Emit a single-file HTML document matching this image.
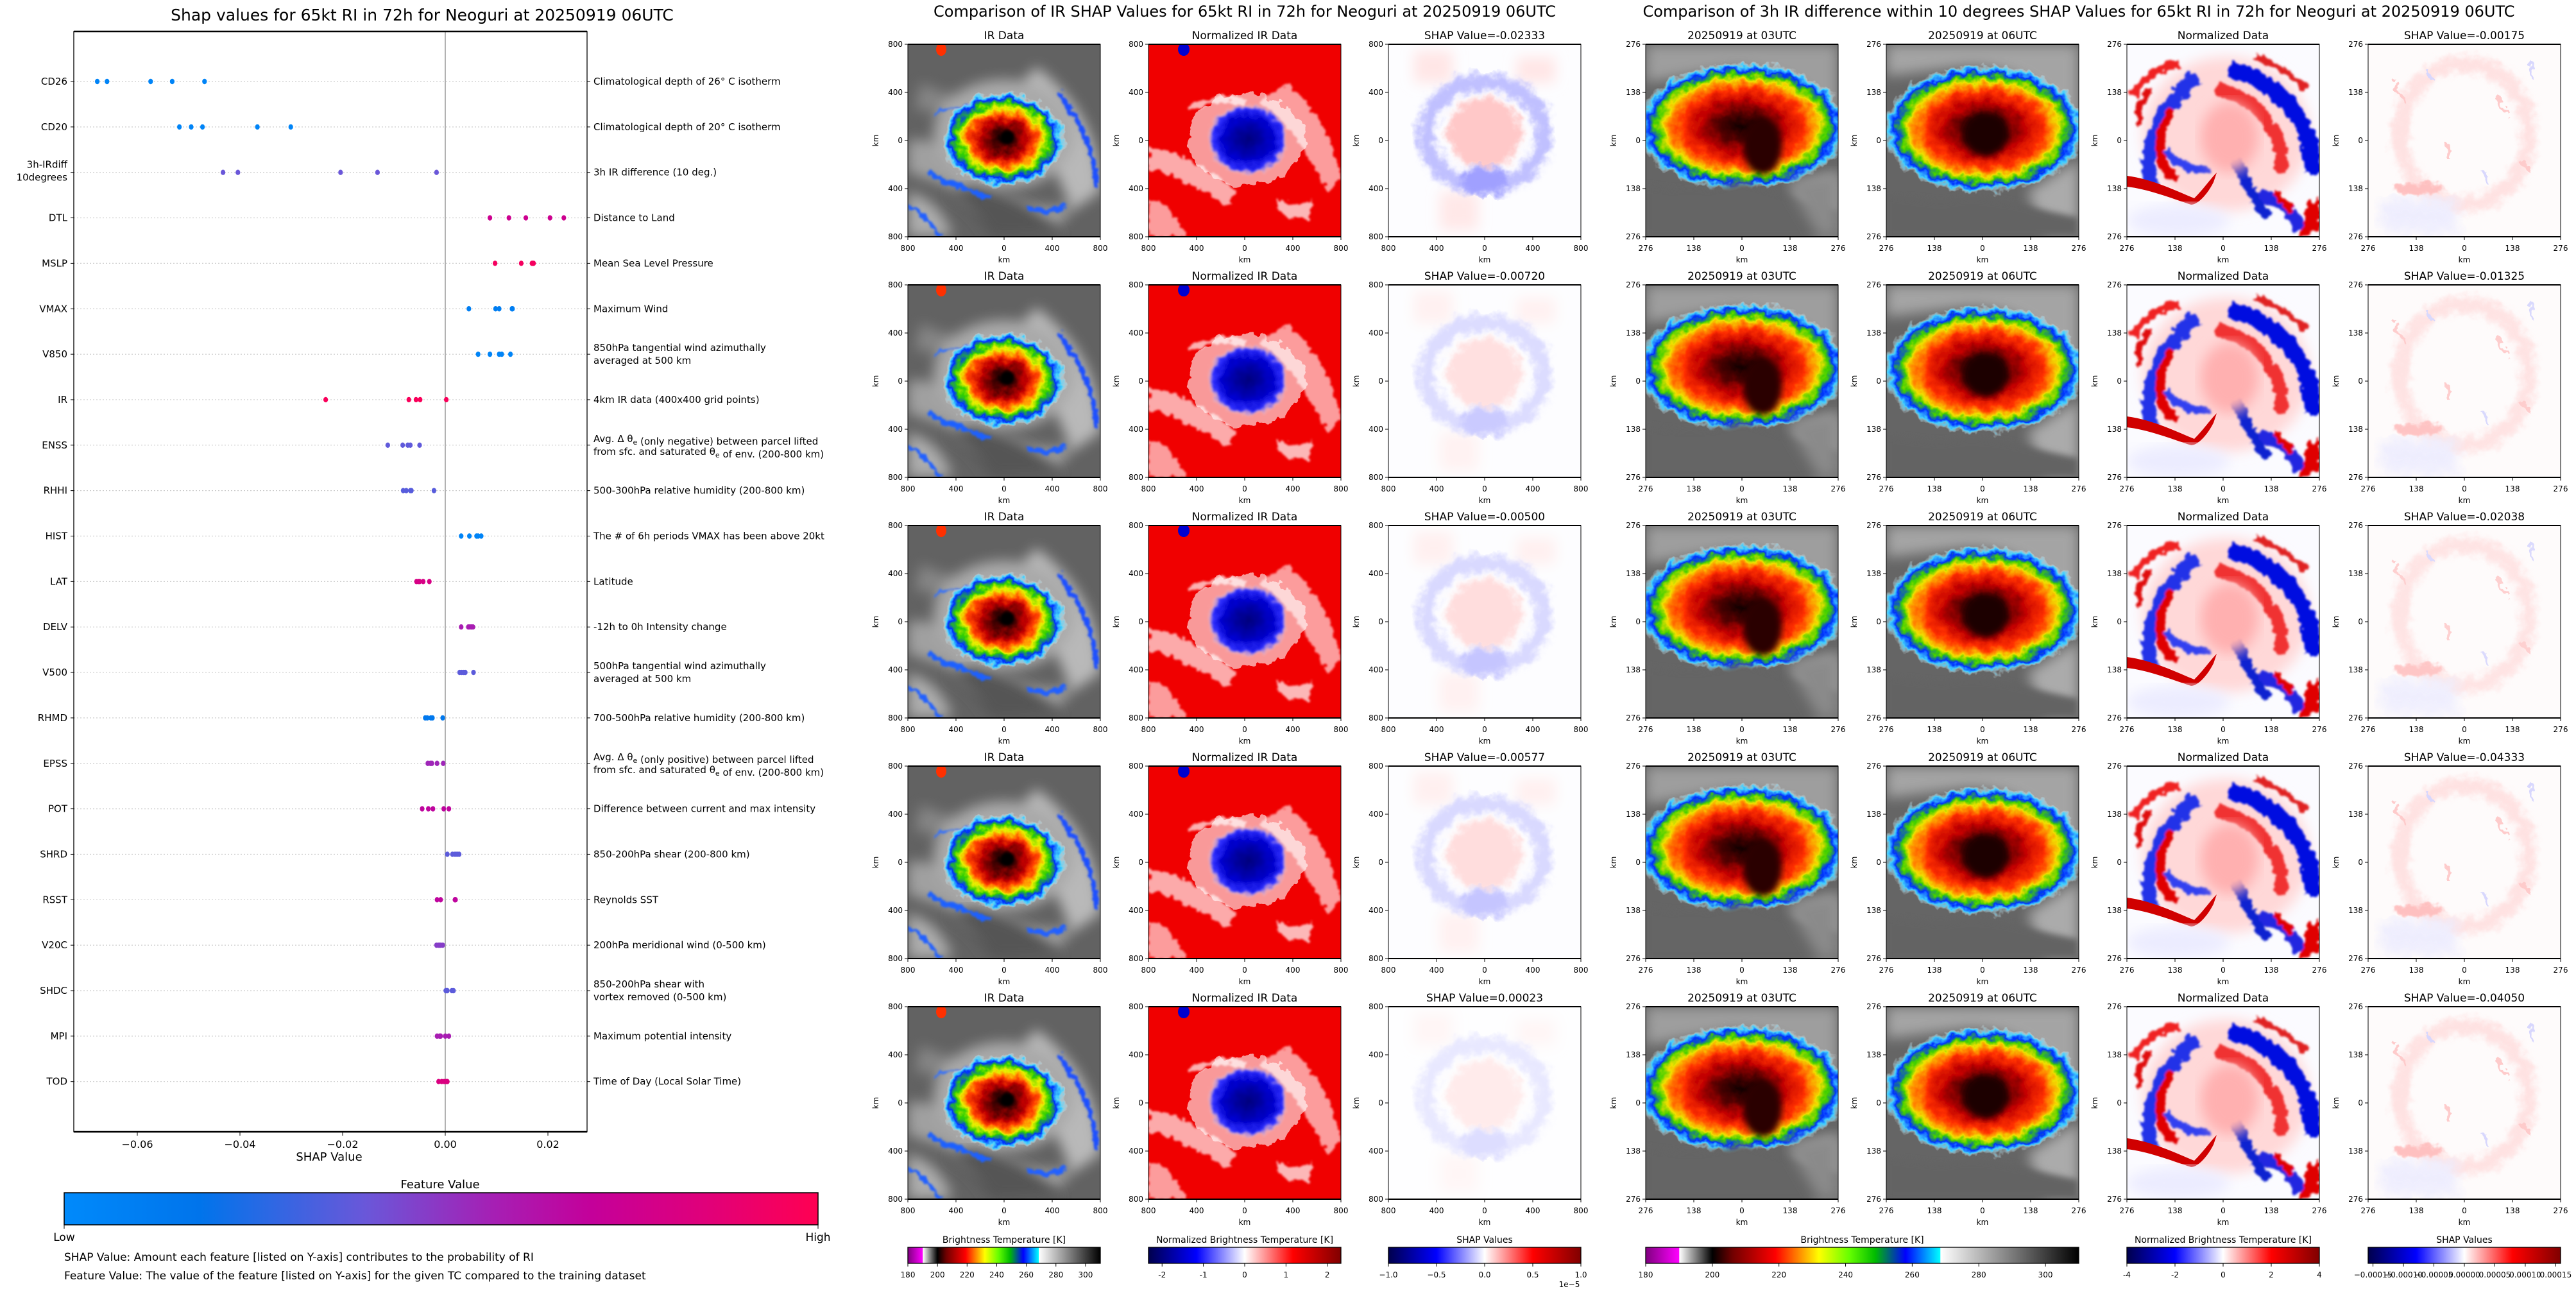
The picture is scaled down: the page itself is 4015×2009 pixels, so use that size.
<!DOCTYPE html>
<html><head><meta charset="utf-8"><title>Neoguri SHAP</title>
<style>
html,body{margin:0;padding:0;background:#fff;}
svg{display:block;font-family:"DejaVu Sans","Liberation Sans",sans-serif;}
</style></head>
<body>
<svg id="root" width="4015" height="2009" viewBox="0 0 4015 2009" xmlns="http://www.w3.org/2000/svg">
<defs>
  <filter id="b2"><feGaussianBlur stdDeviation="2"/></filter>
  <filter id="b5"><feGaussianBlur stdDeviation="5"/></filter>
  <filter id="b10"><feGaussianBlur stdDeviation="10"/></filter>
  <filter id="rough" x="-20%" y="-20%" width="140%" height="140%">
    <feTurbulence type="fractalNoise" baseFrequency="0.06" numOctaves="3" seed="4" result="n"/>
    <feDisplacementMap in="SourceGraphic" in2="n" scale="22" xChannelSelector="R" yChannelSelector="G"/>
  </filter>
  <filter id="rough2" x="-20%" y="-20%" width="140%" height="140%">
    <feTurbulence type="fractalNoise" baseFrequency="0.09" numOctaves="2" seed="9" result="n"/>
    <feDisplacementMap in="SourceGraphic" in2="n" scale="16" xChannelSelector="R" yChannelSelector="G" result="d"/>
    <feGaussianBlur in="d" stdDeviation="1.5"/>
  </filter>
  <linearGradient id="fvGrad" x1="0" x2="1" y1="0" y2="0">
    <stop offset="0" stop-color="#008afb"/><stop offset="0.18" stop-color="#0074eb"/>
    <stop offset="0.4" stop-color="#6a57d9"/><stop offset="0.57" stop-color="#a61fb4"/>
    <stop offset="0.7" stop-color="#c4009a"/><stop offset="0.85" stop-color="#e0007a"/>
    <stop offset="1" stop-color="#ff0052"/>
  </linearGradient>
  <linearGradient id="btGrad" x1="0" x2="1" y1="0" y2="0">
    <stop offset="0" stop-color="#800080"/><stop offset="0.077" stop-color="#ff00ff"/>
    <stop offset="0.078" stop-color="#ffffff"/><stop offset="0.154" stop-color="#000000"/>
    <stop offset="0.2" stop-color="#700000"/><stop offset="0.3" stop-color="#ff0000"/>
    <stop offset="0.36" stop-color="#ff9900"/><stop offset="0.4" stop-color="#ffff00"/>
    <stop offset="0.47" stop-color="#66ff00"/><stop offset="0.53" stop-color="#00bb00"/>
    <stop offset="0.6" stop-color="#0000ff"/><stop offset="0.68" stop-color="#00ffff"/>
    <stop offset="0.681" stop-color="#ffffff"/><stop offset="1" stop-color="#000000"/>
  </linearGradient>
  <linearGradient id="seis" x1="0" x2="1" y1="0" y2="0">
    <stop offset="0" stop-color="#00004c"/><stop offset="0.25" stop-color="#0000ff"/>
    <stop offset="0.5" stop-color="#ffffff"/><stop offset="0.75" stop-color="#ff0000"/>
    <stop offset="1" stop-color="#800000"/>
  </linearGradient>
  <radialGradient id="coreGrad">
    <stop offset="0" stop-color="#100000"/><stop offset="0.2" stop-color="#500000"/>
    <stop offset="0.38" stop-color="#c00000"/><stop offset="0.52" stop-color="#ff4000"/>
    <stop offset="0.6" stop-color="#ffa000"/><stop offset="0.66" stop-color="#e8f000"/>
    <stop offset="0.75" stop-color="#30d000"/><stop offset="0.85" stop-color="#0030ff"/>
    <stop offset="0.92" stop-color="#40d0ff"/><stop offset="1" stop-color="#ffffff" stop-opacity="0"/>
  </radialGradient>
  <radialGradient id="coreGrad2">
    <stop offset="0" stop-color="#100000"/><stop offset="0.22" stop-color="#500000"/>
    <stop offset="0.4" stop-color="#c00000"/><stop offset="0.58" stop-color="#ff3000"/>
    <stop offset="0.68" stop-color="#ff9000"/><stop offset="0.74" stop-color="#f0e000"/>
    <stop offset="0.81" stop-color="#40d000"/><stop offset="0.88" stop-color="#0030ff"/>
    <stop offset="0.94" stop-color="#40d0ff"/><stop offset="1" stop-color="#ffffff" stop-opacity="0"/>
  </radialGradient>
  <radialGradient id="blueCore">
    <stop offset="0" stop-color="#00007a"/><stop offset="0.6" stop-color="#0000cc"/>
    <stop offset="0.85" stop-color="#3030ff"/><stop offset="1" stop-color="#ffffff" stop-opacity="0"/>
  </radialGradient>

  <symbol id="ir800" viewBox="0 0 300 300">
    <rect width="300" height="300" fill="#626262"/>
    <g filter="url(#b10)" opacity="0.8">
      <path d="M200 35 C260 80 300 140 300 230 L255 260 C235 200 195 120 150 90 Z" fill="#cfcfcf"/>
      <path d="M0 150 C60 140 100 200 140 230 C180 250 230 260 260 250 L240 280 C190 290 120 270 60 220 L0 200 Z" fill="#b0b0b0"/>
      <path d="M0 230 C40 240 60 270 70 300 L0 300 Z" fill="#c0c0c0"/>
      <path d="M20 60 C60 80 100 90 140 70 L150 100 C110 120 60 110 10 100 Z" fill="#8e8e8e"/>
      <ellipse cx="150" cy="140" rx="110" ry="85" fill="#bcbcbc"/>
    </g>
    <path d="M100 220 C150 232 200 250 240 300 L130 300 C110 270 90 245 60 235 Z" fill="#555" filter="url(#b10)"/>
    <g filter="url(#rough2)">
      <path d="M235 75 C270 120 290 170 295 220" stroke="#1e50ff" stroke-width="8" fill="none"/>
      <path d="M30 200 C60 215 90 225 130 240" stroke="#1e60ff" stroke-width="7" fill="none"/>
      <path d="M0 250 C20 260 40 280 50 300" stroke="#2060ff" stroke-width="6" fill="none"/>
      <path d="M185 255 C210 262 230 262 245 250" stroke="#2060ff" stroke-width="7" fill="none"/>
      <path d="M40 110 C60 100 80 95 100 100" stroke="#3070ff" stroke-width="4" fill="none"/>
    </g>
    <ellipse cx="148" cy="148" rx="96" ry="74" fill="url(#coreGrad)" filter="url(#rough)"/>
    <circle cx="155" cy="145" r="11" fill="#000" filter="url(#b2)"/>
    <ellipse cx="52" cy="8" rx="8" ry="10" fill="#ff3000"/>
  </symbol>

  <symbol id="norm800" viewBox="0 0 300 300">
    <rect width="300" height="300" fill="#f00000"/>
    <g filter="url(#rough2)" opacity="0.85">
      <path d="M220 60 C260 100 290 150 300 210 L280 230 C250 170 210 110 170 90 Z" fill="#ffb8b8"/>
      <path d="M0 160 C60 170 100 200 140 230 L120 250 C90 230 40 200 0 195 Z" fill="#ffc8c8"/>
      <path d="M0 240 C30 250 50 275 60 300 L0 300 Z" fill="#ffb8b8"/>
      <path d="M200 240 C225 250 245 255 255 240 L250 270 C230 275 210 265 200 255 Z" fill="#ffd8d8"/>
      <path d="M60 100 C90 90 120 80 150 90" stroke="#ffd0d0" stroke-width="10" fill="none"/>
    </g>
    <ellipse cx="152" cy="148" rx="90" ry="72" fill="#ffffff" opacity="0.6" filter="url(#rough)"/>
    <ellipse cx="155" cy="148" rx="64" ry="56" fill="url(#blueCore)" filter="url(#rough2)"/>
    <ellipse cx="55" cy="8" rx="9" ry="10" fill="#0000d0"/>
  </symbol>

  <symbol id="shap800" viewBox="0 0 300 300">
    <rect width="300" height="300" fill="#fdfdff"/>
    <g filter="url(#b10)">
      <rect x="40" y="10" width="60" height="50" fill="#ffe6e6"/>
      <rect x="200" y="20" width="60" height="40" fill="#ffe6e6"/>
      <rect x="80" y="230" width="60" height="60" fill="#ffe8e8"/>
    </g>
    <g filter="url(#rough)">
      <ellipse cx="150" cy="140" rx="92" ry="82" fill="none" stroke="#c0c0ff" stroke-width="26" filter="url(#b5)"/>
      <ellipse cx="150" cy="138" rx="58" ry="55" fill="#ffc8c8" filter="url(#b5)"/>
      <ellipse cx="150" cy="212" rx="38" ry="22" fill="#a0a0ff" filter="url(#b5)"/>
    </g>
  </symbol>

  <symbol id="ir276a" viewBox="0 0 300 300">
    <rect width="300" height="300" fill="#656565"/>
    <g filter="url(#b10)" opacity="0.85">
      <path d="M0 0 L300 0 L300 120 C250 60 180 30 120 40 L0 60 Z" fill="#a8a8a8"/>
      <path d="M230 220 L300 200 L300 300 L270 300 Z" fill="#bdbdbd"/>
    </g>
    <ellipse cx="150" cy="128" rx="165" ry="100" fill="url(#coreGrad2)" filter="url(#rough)"/>
    <ellipse cx="182" cy="158" rx="30" ry="45" fill="#2a0000" filter="url(#b5)"/>
    <path d="M0 220 C60 232 110 228 150 215 L300 260 L300 300 L0 300 Z" fill="#656565" filter="url(#b5)"/>
    <path d="M220 215 L300 200 L300 300 L270 300 Z" fill="#8a8a8a" filter="url(#b10)"/>
  </symbol>

  <symbol id="ir276b" viewBox="0 0 300 300">
    <rect width="300" height="300" fill="#656565"/>
    <g filter="url(#b10)" opacity="0.85">
      <path d="M0 0 L300 0 L300 140 C250 60 180 30 120 35 L0 50 Z" fill="#b0b0b0"/>
      <path d="M220 230 L300 180 L300 300 L250 300 Z" fill="#b8b8b8"/>
    </g>
    <ellipse cx="152" cy="132" rx="158" ry="100" fill="url(#coreGrad2)" filter="url(#rough)"/>
    <ellipse cx="155" cy="140" rx="34" ry="34" fill="#1a0000" filter="url(#b5)"/>
    <path d="M0 235 C40 240 70 245 90 245 C150 230 200 250 300 270 L300 300 L0 300 Z" fill="#646464" filter="url(#b5)"/>
  </symbol>

  <symbol id="norm276" viewBox="0 0 300 300">
    <rect width="300" height="300" fill="#fbfbff"/>
    <ellipse cx="155" cy="140" rx="130" ry="120" fill="#ffd8d8" filter="url(#b10)"/>
    <g filter="url(#rough2)">
      <path d="M160 40 C240 60 290 120 290 200" stroke="#0010e0" stroke-width="26" fill="none"/>
      <path d="M110 50 C50 100 20 170 40 220" stroke="#2030e8" stroke-width="22" fill="none"/>
      <path d="M200 240 C230 230 260 260 270 290" stroke="#2028e0" stroke-width="18" fill="none"/>
      <path d="M170 180 C190 220 200 250 220 270" stroke="#1020d0" stroke-width="16" fill="none"/>
      <path d="M70 100 C40 150 50 200 80 210" stroke="#e00000" stroke-width="14" fill="none"/>
      <path d="M140 70 C200 80 250 140 240 200" stroke="#f03030" stroke-width="20" fill="none"/>
      <path d="M10 80 C20 60 40 40 80 30" stroke="#f02020" stroke-width="12" fill="none"/>
      <path d="M20 130 C15 100 25 80 40 70" stroke="#e01010" stroke-width="10" fill="none"/>
      <path d="M200 20 C230 30 260 50 280 70" stroke="#e02020" stroke-width="10" fill="none"/>
      <path d="M60 165 C80 190 110 200 130 195" stroke="#3040f0" stroke-width="12" fill="none"/>
      <path d="M280 250 L300 240 L300 290 L270 300 Z" fill="#e00000"/>
      <path d="M230 230 C240 240 250 250 255 260" stroke="#e00000" stroke-width="12" fill="none"/>
    </g>
    <ellipse cx="160" cy="145" rx="45" ry="55" fill="#ffb0b0" filter="url(#b10)"/>
    <path d="M0 205 C40 210 80 230 105 240 C120 225 130 210 140 200 L135 215 C125 235 110 250 100 250 C70 240 30 225 0 222 Z" fill="#d00000"/>
    <ellipse cx="80" cy="275" rx="80" ry="25" fill="#ececff" filter="url(#b10)"/>
  </symbol>

  <symbol id="shap276" viewBox="0 0 300 300">
    <rect width="300" height="300" fill="#fefbfb"/>
    <g filter="url(#rough)" opacity="0.7">
      <ellipse cx="150" cy="140" rx="100" ry="110" fill="none" stroke="#ffd8d8" stroke-width="25" filter="url(#b5)"/>
      <rect x="20" y="240" width="120" height="55" fill="#e8e8ff" filter="url(#b10)"/>
      <ellipse cx="80" cy="225" rx="40" ry="10" fill="#ffa8a8" filter="url(#b2)"/>
      <path d="M40 60 L60 90 M200 80 L220 110 M120 150 L130 175 M240 180 L255 200" stroke="#ffb8b8" stroke-width="5"/>
      <path d="M90 40 L100 60 M250 30 L260 50 M180 200 L190 215" stroke="#c8c8ff" stroke-width="5"/>
    </g>
  </symbol>
</defs>
</svg>

<script>
// ---------------- LEFT SHAP SUMMARY CHART DATA ----------------
const features = ["CD26","CD20","3h-IRdiff\n10degrees","DTL","MSLP","VMAX","V850","IR","ENSS","RHHI","HIST","LAT","DELV","V500","RHMD","EPSS","POT","SHRD","RSST","V20C","SHDC","MPI","TOD"];
const descriptions = [
 "Climatological depth of 26° C isotherm",
 "Climatological depth of 20° C isotherm",
 "3h IR difference (10 deg.)",
 "Distance to Land",
 "Mean Sea Level Pressure",
 "Maximum Wind",
 "850hPa tangential wind azimuthally\naveraged at 500 km",
 "4km IR data (400x400 grid points)",
 "Avg. Δ θe (only negative) between parcel lifted\nfrom sfc. and saturated θe of env. (200-800 km)",
 "500-300hPa relative humidity (200-800 km)",
 "The # of 6h periods VMAX has been above 20kt",
 "Latitude",
 "-12h to 0h Intensity change",
 "500hPa tangential wind azimuthally\naveraged at 500 km",
 "700-500hPa relative humidity (200-800 km)",
 "Avg. Δ θe (only positive) between parcel lifted\nfrom sfc. and saturated θe of env. (200-800 km)",
 "Difference between current and max intensity",
 "850-200hPa shear (200-800 km)",
 "Reynolds SST",
 "200hPa meridional wind (0-500 km)",
 "850-200hPa shear with\nvortex removed (0-500 km)",
 "Maximum potential intensity",
 "Time of Day (Local Solar Time)"
];
const shapValues = [
 [-0.0678,-0.0659,-0.0574,-0.0532,-0.0469],
 [-0.0518,-0.0495,-0.0473,-0.0366,-0.0301],
 [-0.0433,-0.0404,-0.0204,-0.0132,-0.0017],
 [0.0087,0.0124,0.0157,0.0204,0.0231],
 [0.0097,0.0148,0.0169,0.0172,0.0170],
 [0.0046,0.0098,0.0105,0.0130,0.0131],
 [0.0064,0.0087,0.0105,0.0110,0.0127],
 [-0.0233,-0.0071,-0.0057,-0.0049,0.0002],
 [-0.0112,-0.0083,-0.0073,-0.0068,-0.0050],
 [-0.0082,-0.0076,-0.0068,-0.0066,-0.0022],
 [0.0031,0.0047,0.0061,0.0064,0.0070],
 [-0.0056,-0.0052,-0.0050,-0.0043,-0.0031],
 [0.0031,0.0045,0.0048,0.0051,0.0054],
 [0.0028,0.0032,0.0036,0.0039,0.0055],
 [-0.0039,-0.0035,-0.0028,-0.0025,-0.0005],
 [-0.0034,-0.0029,-0.0026,-0.0016,-0.0004],
 [-0.0045,-0.0033,-0.0024,-0.0003,0.0007],
 [0.0004,0.0014,0.0019,0.0023,0.0027],
 [-0.0016,-0.0009,0.0019,0.0020,0.0019],
 [-0.0017,-0.0013,-0.0009,-0.0005,-0.0011],
 [0.0001,0.0004,0.0013,0.0016,0.0003],
 [-0.0016,-0.0009,0.0000,0.0007,-0.0011],
 [-0.0013,-0.0007,-0.0002,0.0002,0.0004]
];
const featureValues = [0.05,0.05,0.4,0.75,0.95,0.1,0.05,0.97,0.38,0.36,0.05,0.8,0.58,0.37,0.15,0.55,0.68,0.37,0.68,0.48,0.37,0.58,0.82];
const xTicks = [-0.06,-0.04,-0.02,0.00,0.02];
const xTickLabels = ["−0.06","−0.04","−0.02","0.00","0.02"];

// ---------------- RIGHT PANELS DATA ----------------
const irShapTitles = ["-0.02333","-0.00720","-0.00500","-0.00577","0.00023"];
const diffShapTitles = ["-0.00175","-0.01325","-0.02038","-0.04333","-0.04050"];
const km800Labels = ["800","400","0","400","800"];
const km276Labels = ["276","138","0","138","276"];
const btTicks = [180,200,220,240,260,280,300];
const normTicksMid = [-2,-1,0,1,2];
const shapTicksMid = ["−1.0","−0.5","0.0","0.5","1.0"];
const normTicksRight = [-4,-2,0,2,4];
const shapTicksRight = ["−0.00015","−0.00010","−0.00005","0.00000","0.00005","0.00010","0.00015"];

const NS = "http://www.w3.org/2000/svg";
const root = document.getElementById("root");
function el(tag, attrs, parent){
  const e = document.createElementNS(NS, tag);
  for (const k in attrs) e.setAttribute(k, attrs[k]);
  (parent||root).appendChild(e);
  return e;
}
function txt(s, x, y, size, anchor, parent, extra){
  const t = el("text", Object.assign({x:x, y:y, "font-size":size, "text-anchor":anchor||"middle", fill:"#000"}, extra||{}), parent);
  t.textContent = s;
  return t;
}

// ---- left chart ----
const AX_L=115, AX_R=915, AX_T=49, AX_B=1764;
const xScale = v => 694 + v*8000;
const yRow = i => 127 + i*70.85;
function fvColor(t){
  const stops=[[0,[0,138,251]],[0.18,[0,116,235]],[0.4,[106,87,217]],[0.57,[166,31,180]],[0.7,[196,0,154]],[0.85,[224,0,122]],[1,[255,0,82]]];
  for(let i=1;i<stops.length;i++){ if(t<=stops[i][0]){ const a=stops[i-1],b=stops[i]; const f=(t-a[0])/(b[0]-a[0]); const c=a[1].map((v,j)=>Math.round(v+(b[1][j]-v)*f)); return `rgb(${c.join(",")})`; } }
  return "rgb(255,0,82)";
}
const left = el("g", {});


const lt = txt("Shap values for 65kt RI in 72h for Neoguri at 20250919 06UTC", 658, 32, 25, "middle", left);


features.forEach((f,i)=>{
  const y=yRow(i);
  const g=el("line",{x1:AX_L,x2:AX_R,y1:y,y2:y,stroke:"#cccccc","stroke-width":1.2,"stroke-dasharray":"2,3"},left);
  
  
  el("line",{x1:AX_L-5,x2:AX_L,y1:y,y2:y,stroke:"#000","stroke-width":1},left);
  el("line",{x1:AX_R,x2:AX_R+5,y1:y,y2:y,stroke:"#000","stroke-width":1},left);
  const lines=f.split("\n");
  lines.forEach((ln,k)=>{
    const t=txt(ln, AX_L-10, y+5+(k-(lines.length-1)/2)*20 - (lines.length>1?2:0), 15, "end", left);
    
    
  });
  const dl=descriptions[i].split("\n");
  dl.forEach((ln,k)=>{
    const t=el("text",{x:AX_R+10,y:y+5+(k-(dl.length-1)/2)*20,"font-size":15,fill:"#000"},left);
    if(ln.includes("θe")){
      const parts=ln.split("θe");
      parts.forEach((p,pi)=>{
        const s=el("tspan",{},t); s.textContent=p;
        if(pi<parts.length-1){ const th=el("tspan",{},t); th.textContent="θ"; const sub=el("tspan",{"font-size":11,dy:4},t); sub.textContent="e"; const back=el("tspan",{dy:-4},t); back.textContent=""; }
      });
    } else t.textContent=ln;
    
    
  });
});
const zl=el("line",{x1:xScale(0),x2:xScale(0),y1:AX_T,y2:AX_B,stroke:"#999","stroke-width":1.5},left);


shapValues.forEach((row,i)=>{
  row.forEach(v=>{
    const c=el("ellipse",{cx:xScale(v),cy:yRow(i),rx:3.6,ry:4.2,fill:fvColor(featureValues[i])},left);
    
    
  });
});
const fr=el("rect",{x:AX_L,y:AX_T,width:AX_R-AX_L,height:AX_B-AX_T,fill:"none",stroke:"#000","stroke-width":1.3},left);


el("line",{x1:AX_L,x2:AX_R,y1:AX_T,y2:AX_T,stroke:"#000","stroke-width":2.5},left);
el("line",{x1:AX_L,x2:AX_R,y1:AX_B,y2:AX_B,stroke:"#000","stroke-width":2.5},left);
xTicks.forEach((v,i)=>{
  el("line",{x1:xScale(v),x2:xScale(v),y1:AX_B,y2:AX_B+6,stroke:"#000"},left);
  const t=txt(xTickLabels[i], xScale(v), AX_B+25, 16, "middle", left);
  
  
});
const xl=txt("SHAP Value", 513, 1809, 18, "middle", left);


const cbt=txt("Feature Value", 686, 1852, 18, "middle", left);


const cb=el("rect",{x:100,y:1859,width:1175,height:50,fill:"url(#fvGrad)",stroke:"#000","stroke-width":1.5},left);


el("line",{x1:100,x2:100,y1:1909,y2:1915,stroke:"#000"},left);
el("line",{x1:1275,x2:1275,y1:1909,y2:1915,stroke:"#000"},left);
const lo=txt("Low",100,1934,17,"middle",left);  
const hi=txt("High",1275,1934,17,"middle",left);  
const n1=txt("SHAP Value: Amount each feature [listed on Y-axis] contributes to the probability of RI",100,1965,17,"start",left);
 
const n2=txt("Feature Value: The value of the feature [listed on Y-axis] for the given TC compared to the training dataset",100,1994,17,"start",left);
 

// ---- image panels ----
const ROW_T = [69,444,819,1194,1569];
const PW=300, PH=300;
function panel(x,y,sym,title,labels,opacity,name){
  const g=el("g",{});
  
  
  el("use",{href:"#"+sym,x:x,y:y,width:PW,height:PH,opacity:opacity},g);
  el("rect",{x:x,y:y,width:PW,height:PH,fill:"none",stroke:"#000","stroke-width":1},g);
  el("line",{x1:x,x2:x+PW,y1:y,y2:y,stroke:"#000","stroke-width":2},g);
  el("line",{x1:x,x2:x+PW,y1:y+PH,y2:y+PH,stroke:"#000","stroke-width":2},g);
  const tt=txt(title,x+PW/2,y-8,17,"middle",g);
  
  
  labels.forEach((l,i)=>{
    const px=x+i*PW/4, py=y+i*PH/4;
    el("line",{x1:px,x2:px,y1:y+PH,y2:y+PH+5,stroke:"#000"},g);
    el("line",{x1:x-5,x2:x,y1:py,y2:py,stroke:"#000"},g);
    txt(l,px,y+PH+22,12,"middle",g);
    txt(l,x-8,py+4,12,"end",g);
  });
  txt("km",x+PW/2,y+PH+40,12,"middle",g);
  txt("km",x-46,y+PH/2,12,"middle",g,{transform:`rotate(-90 ${x-46} ${y+PH/2})`});
}
const midT=txt("Comparison of IR SHAP Values for 65kt RI in 72h for Neoguri at 20250919 06UTC",1940,26,24,"middle");
 
const rightT=txt("Comparison of 3h IR difference within 10 degrees SHAP Values for 65kt RI in 72h for Neoguri at 20250919 06UTC",3240,26,24,"middle");
 
const shapOp=[1,0.55,0.6,0.6,0.35];
const shap2Op=[1,0.95,0.9,1,1];
ROW_T.forEach((y,r)=>{
  panel(1415,y,"ir800","IR Data",km800Labels,1,"ir-data-panel");
  panel(1790,y,"norm800","Normalized IR Data",km800Labels,1,"normalized-ir-panel");
  panel(2164,y,"shap800","SHAP Value="+irShapTitles[r],km800Labels,shapOp[r],"ir-shap-panel");
  panel(2565,y,"ir276a","20250919 at 03UTC",km276Labels,1,"ir-03utc-panel");
  panel(2940,y,"ir276b","20250919 at 06UTC",km276Labels,1,"ir-06utc-panel");
  panel(3315,y,"norm276","Normalized Data",km276Labels,1,"normalized-diff-panel");
  panel(3691,y,"shap276","SHAP Value="+diffShapTitles[r],km276Labels,shap2Op[r],"diff-shap-panel");
});

// ---- colorbars ----
function cbar(x,w,grad,title,ticks,lo,hi,name){
  const g=el("g",{});
  
  
  txt(title,x+w/2,1937,14,"middle",g);
  el("rect",{x:x,y:1944,width:w,height:25,fill:"url(#"+grad+")",stroke:"#000","stroke-width":1.3},g);
  ticks.forEach(t=>{
    const v=typeof t==="string"?parseFloat(t.replace("−","-")):t;
    const px=x+(v-lo)/(hi-lo)*w;
    el("line",{x1:px,x2:px,y1:1969,y2:1974,stroke:"#000"},g);
    txt(String(t),px,1991,12,"middle",g);
  });
}
cbar(1415,300,"btGrad","Brightness Temperature [K]",btTicks,180,310,"bt-colorbar-ir");
cbar(1790,300,"seis","Normalized Brightness Temperature [K]",normTicksMid,-2.33,2.33,"normalized-colorbar-ir");
cbar(2164,300,"seis","SHAP Values",shapTicksMid,-1,1,"shap-colorbar-ir");
txt("1e−5",2446,2006,12,"middle");
cbar(2565,675,"btGrad","Brightness Temperature [K]",btTicks,180,310,"bt-colorbar-diff");
cbar(3315,300,"seis","Normalized Brightness Temperature [K]",normTicksRight,-4,4,"normalized-colorbar-diff");
cbar(3691,300,"seis","SHAP Values",shapTicksRight,-0.000158,0.000158,"shap-colorbar-diff");
</script>
</body></html>
